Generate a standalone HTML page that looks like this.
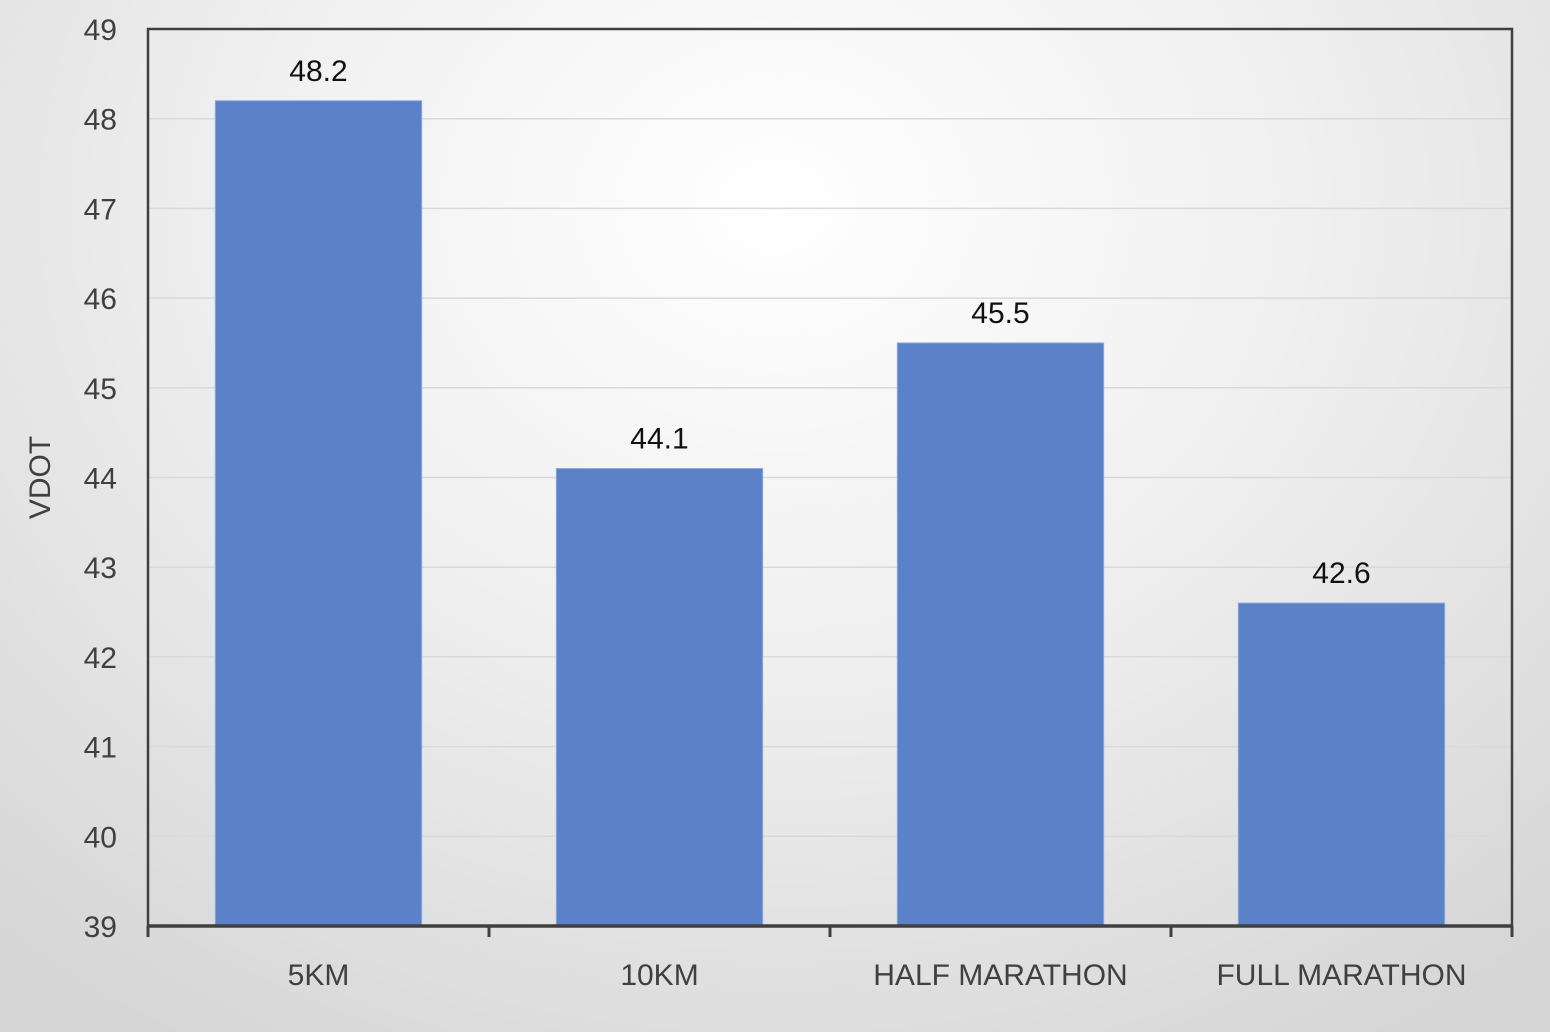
<!DOCTYPE html>
<html><head><meta charset="utf-8"><style>
html,body{margin:0;padding:0;}
body{width:1550px;height:1032px;overflow:hidden;background:radial-gradient(ellipse 75% 95% at 50% 20%,#ffffff 0%,#f0f0f0 45%,#d6d6d6 100%);font-family:"Liberation Sans",sans-serif;}
</style></head><body>
<svg id="chart" width="1550" height="1032" xmlns="http://www.w3.org/2000/svg" style="position:absolute;left:0;top:0">
<g id="grid"></g>
<g id="bars"></g>
<g id="labels"></g>
<g id="axes"></g>
</svg>
<script>
const categories=["5KM","10KM","HALF MARATHON","FULL MARATHON"];
const values=[48.2,44.1,45.5,42.6];
const valueLabels=["48.2","44.1","45.5","42.6"];
const yTicks=[39,40,41,42,43,44,45,46,47,48,49];
const NS="http://www.w3.org/2000/svg";
const L=148,R=1512,T=29,B=926,yMin=39,yMax=49;
const y=v=>B-(v-yMin)/(yMax-yMin)*(B-T);
const band=(R-L)/categories.length;
const x=i=>L+band*i;
function mk(tag,attrs,parent){const e=document.createElementNS(NS,tag);for(const k in attrs)e.setAttribute(k,attrs[k]);parent.appendChild(e);return e;}
const grid=document.getElementById('grid'),bars=document.getElementById('bars'),labels=document.getElementById('labels'),axes=document.getElementById('axes');
yTicks.forEach(t=>{
 if(t>yMin&&t<yMax){const g=mk('line',{x1:L,x2:R,y1:y(t),y2:y(t),stroke:'#d9d9d9','stroke-width':1.5},grid);
 
 }
 const tx=mk('text',{x:117,y:y(t)+11,'text-anchor':'end','font-size':30,fill:'#404040'},axes);
 tx.textContent=t;
 
 
});
values.forEach((v,i)=>{
 const bw=band*0.605,bx=x(i)+(band-bw)/2;
 const r=mk('rect',{x:bx,y:y(v),width:bw,height:B-y(v),fill:'#5b82c8',stroke:'#8aa8dd','stroke-width':1},bars);
 
 
 const t=mk('text',{x:x(i)+band/2,y:y(v)-20,'text-anchor':'middle','font-size':30,fill:'#111'},labels);
 t.textContent=valueLabels[i];
 
 
 const c=mk('text',{x:x(i)+band/2,y:985,'text-anchor':'middle','font-size':30,fill:'#404040'},axes);
 c.textContent=categories[i];
 
 
});
const frame=mk('path',{d:`M${L},${B} L${L},${T} L${R},${T} L${R},${B}`,fill:'none',stroke:'#404040','stroke-width':2.5},axes);


const xa=mk('line',{x1:L,x2:R,y1:B,y2:B,stroke:'#404040','stroke-width':3.5},axes);


for(let i=0;i<=categories.length;i++){
 const tk=mk('line',{x1:x(i),x2:x(i),y1:B,y2:B+11,stroke:'#404040','stroke-width':3},axes);
 
 
}
const yt=mk('text',{x:0,y:0,'text-anchor':'middle','font-size':30,fill:'#404040',transform:`translate(50,${(T+B)/2}) rotate(-90)`},axes);
yt.textContent='VDOT';


</script>
</body></html>
